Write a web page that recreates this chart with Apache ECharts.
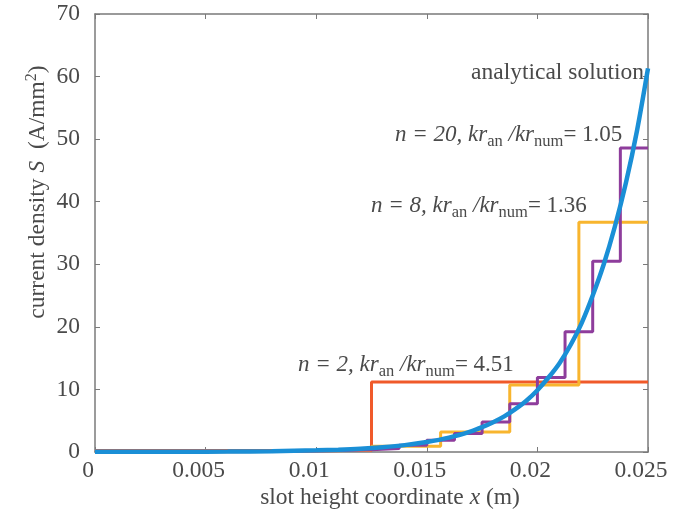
<!DOCTYPE html>
<html>
<head>
<meta charset="utf-8">
<script src="https://cdn.jsdelivr.net/npm/echarts@6/dist/echarts.min.js"></script>
<style>
  html, body { margin: 0; padding: 0; background: #fff; }
  #chart { width: 685px; height: 512px; }
</style>
</head>
<body>
<div id="chart"></div>
<script>
// Axis ticks
const xTicks = [0, 0.005, 0.01, 0.015, 0.02, 0.025];
const yTicks = [0, 10, 20, 30, 40, 50, 60, 70];

// Analytical current density along the slot height
const analyticX = [0, 0.002, 0.004, 0.006, 0.008, 0.010, 0.011, 0.012, 0.013, 0.014, 0.015, 0.016, 0.017, 0.0175, 0.018, 0.0185, 0.019, 0.0195, 0.020, 0.0205, 0.021, 0.0215, 0.022, 0.0225, 0.023, 0.0235, 0.024, 0.0245, 0.025];
const analyticS = [0.02, 0.03, 0.04, 0.06, 0.12, 0.26, 0.37, 0.53, 0.77, 1.10, 1.59, 2.29, 3.30, 3.97, 4.76, 5.70, 6.86, 8.2, 9.88, 11.9, 14.2, 17.1, 20.6, 25.0, 30.0, 36.0, 43.0, 51.3, 61.3];

// Piecewise-constant numerical solutions: subconductor edges and the density in each
const n2Edges = [0, 0.0125, 0.025];
const n2S = [0.25, 11.2];

const n8Edges = [0, 0.003125, 0.00625, 0.009375, 0.0125, 0.015625, 0.01875, 0.021875, 0.025];
const n8S = [0.03, 0.05, 0.12, 0.32, 0.9, 3.2, 10.7, 36.7];

const n20Edges = [0, 0.00125, 0.0025, 0.00375, 0.005, 0.00625, 0.0075, 0.00875, 0.01, 0.01125, 0.0125,
                  0.01375, 0.015, 0.01625, 0.0175, 0.01875, 0.02, 0.02125, 0.0225, 0.02375, 0.025];
const n20S = [0.02, 0.02, 0.03, 0.04, 0.05, 0.07, 0.1, 0.15, 0.22, 0.35,
              0.55, 1.07, 1.87, 2.94, 4.8, 7.7, 11.9, 19.2, 30.5, 48.6];

function stepData(edges, vals) {
  const d = vals.map((v, i) => [edges[i], v]);
  d.push([edges[edges.length - 1], vals[vals.length - 1]]);
  return d;
}

const FONT = '"Liberation Serif", "Times New Roman", serif';
const TXT = '#4a4a4a';
const AX = '#7a7a7a';
const FS = 23.5;

const chart = echarts.init(document.getElementById('chart'), null, { renderer: 'canvas' });

function richStyle(fs) {
  return {
    fontSize: fs, fontFamily: FONT, fill: TXT,
    rich: {
      i: { fontSize: fs, fontFamily: FONT, fontStyle: 'italic', color: TXT },
      r: { fontSize: fs, fontFamily: FONT, color: TXT },
      s: { fontSize: 16.5, fontFamily: FONT, color: TXT, padding: [14, 0, 0, 0] },
      p: { fontSize: 16, fontFamily: FONT, color: TXT, padding: [0, 0, 13, 0] }
    }
  };
}

function annot(x, y, text, align, fs) {
  return {
    type: 'text', x: x, y: y, z: 100,
    style: Object.assign({}, richStyle(fs || FS), { text: text, textAlign: align || 'left', textVerticalAlign: 'middle' })
  };
}

const xMin = xTicks[0], xMax = xTicks[xTicks.length - 1];
const yMin = yTicks[0], yMax = yTicks[yTicks.length - 1];

const axisCommon = {
  axisLine: { show: true, onZero: false, lineStyle: { color: AX, width: 1.5 } },
  axisTick: { show: true, inside: true, length: 5, lineStyle: { color: AX, width: 1 } },
  splitLine: { show: false }
};

chart.setOption({
  animation: false,
  backgroundColor: '#ffffff',
  grid: { left: 95, right: 37, top: 14, bottom: 60 },
  xAxis: [
    Object.assign({
      type: 'value', min: xMin, max: xMax, interval: xTicks[1] - xTicks[0], position: 'bottom',
      axisLabel: { fontSize: FS, fontFamily: FONT, color: TXT, margin: 7, padding: [0, 14, 0, 0] }
    }, axisCommon),
    Object.assign({
      type: 'value', min: xMin, max: xMax, interval: xTicks[1] - xTicks[0], position: 'top',
      axisLabel: { show: false }
    }, axisCommon)
  ],
  yAxis: [
    Object.assign({
      type: 'value', min: yMin, max: yMax, interval: yTicks[1] - yTicks[0], position: 'left',
      axisLabel: { fontSize: FS, fontFamily: FONT, color: TXT, margin: 15 }
    }, axisCommon),
    Object.assign({
      type: 'value', min: yMin, max: yMax, interval: yTicks[1] - yTicks[0], position: 'right',
      axisLabel: { show: false }
    }, axisCommon)
  ],
  series: [
    {
      name: 'n = 2', type: 'line', step: 'end', symbol: 'none', z: 2,
      lineStyle: { color: '#f05a2a', width: 3 },
      data: stepData(n2Edges, n2S)
    },
    {
      name: 'n = 8', type: 'line', step: 'end', symbol: 'none', z: 3,
      lineStyle: { color: '#f8b52e', width: 3 },
      data: stepData(n8Edges, n8S)
    },
    {
      name: 'n = 20', type: 'line', step: 'end', symbol: 'none', z: 4,
      lineStyle: { color: '#8e3d9c', width: 3 },
      data: stepData(n20Edges, n20S)
    },
    {
      name: 'analytical solution', type: 'line', smooth: 0.3, symbol: 'none', z: 5,
      lineStyle: { color: '#1a8fd6', width: 4.5 },
      data: analyticX.map((x, i) => [x, analyticS[i]])
    }
  ],
  graphic: [
    annot(644, 73, '{r|analytical solution}', 'right'),
    annot(395, 135, '{i|n = 20, kr}{s|an}{i| /kr}{s|num}{r|= 1.05}', 'left', 23),
    annot(371, 206, '{i|n = 8, kr}{s|an}{i| /kr}{s|num}{r|= 1.36}', 'left', 23),
    annot(298, 365, '{i|n = 2, kr}{s|an}{i| /kr}{s|num}{r|= 4.51}', 'left', 23),
    annot(390, 498, '{r|slot height coordinate }{i|x}{r| (m)}', 'center'),
    {
      type: 'text', x: 38, y: 192, rotation: Math.PI / 2, z: 100,
      style: Object.assign({}, richStyle(FS), {
        text: '{r|current density }{i|S}{r|  (A/mm}{p|2}{r|)}',
        textAlign: 'center', textVerticalAlign: 'middle'
      })
    }
  ]
});
</script>
</body>
</html>
